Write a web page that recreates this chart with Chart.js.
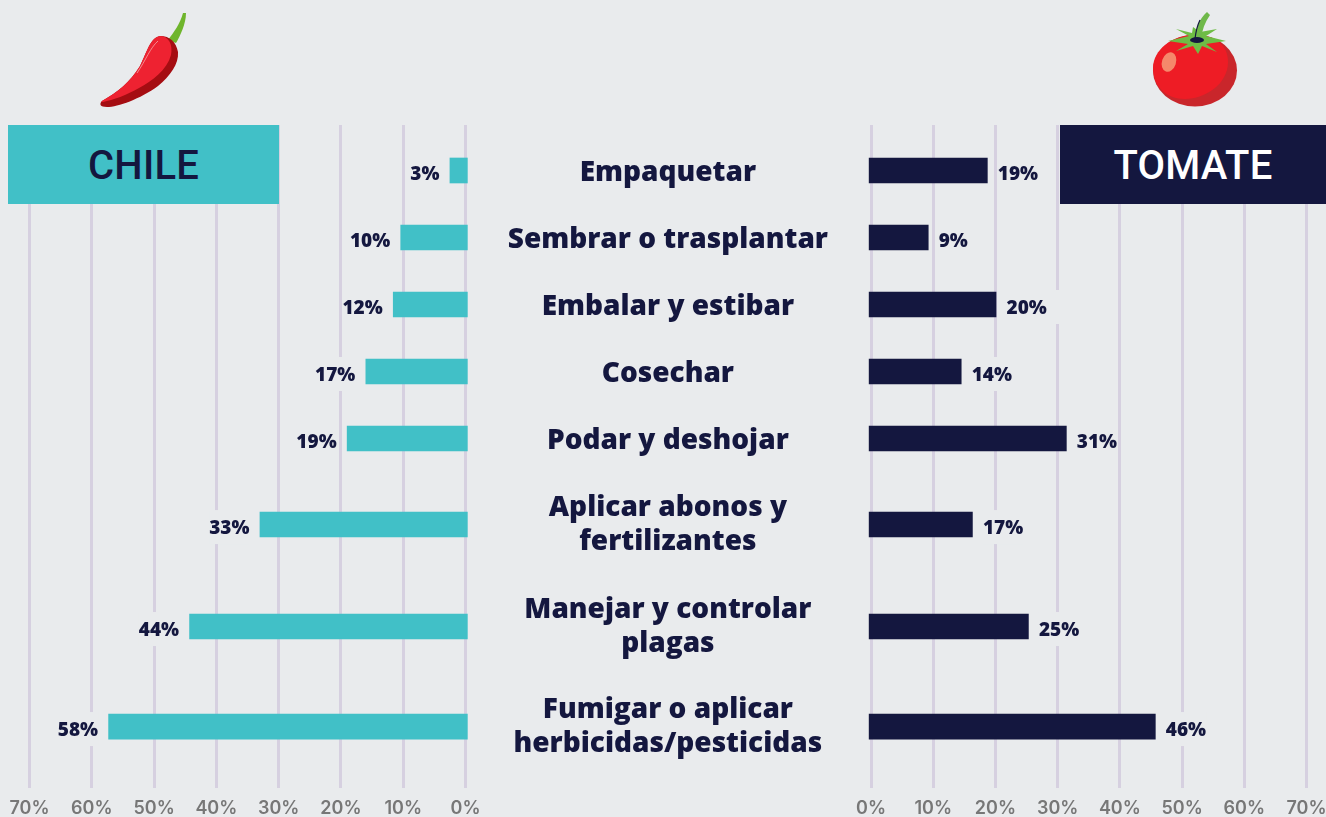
<!DOCTYPE html>
<html lang="es">
<head>
<meta charset="utf-8">
<title>Chile y tomate</title>
<script src="https://cdn.jsdelivr.net/npm/chart.js@4"></script>
<style>
  html, body { margin: 0; padding: 0; background: #e9ebed; overflow: hidden; }
  #page { position: relative; width: 1326px; height: 817px; }
  canvas { position: absolute; top: 0; }
  #chartChile { left: 0; }
  #chartTomate { left: 480px; }
  .head {
    position: absolute; top: 125px; height: 79px; line-height: 82px; text-align: center;
    font-family: Roboto, sans-serif; font-weight: 500; font-size: 40px; letter-spacing: 0.2px;
  }
  #headChile { left: 8px; width: 271px; background: #41c0c7; color: #14173f; }
  #headTomate { left: 1060px; width: 266px; background: #14173f; color: #fff; }
  svg { position: absolute; left: 0; top: 0; }
</style>
</head>
<body>
<div id="page">
  <canvas id="chartChile" width="480" height="817"></canvas>
  <canvas id="chartTomate" width="846" height="817"></canvas>
  <div class="head" id="headChile">CHILE</div>
  <div class="head" id="headTomate">TOMATE</div>
  <!-- iconos -->
  <svg width="1326" height="120" viewBox="0 0 1326 120">
    <path d="M168 40C174 32 180 24 183 13L186 13C186 24 180 36 176 43Z" fill="#6fb52c"/>
    <path d="M160 36C170 36 176 42 178 52C179 64 170 76 158 86C140 99 118 107 107 107C100 107 99 104 102 101C118 92 130 82 140 66C147 52 150 38 160 36Z" fill="#a50d12"/>
    <path d="M160 36C169 36 173 45 171 55C167 70 152 81 139 88C127 95 113 100 103 102C101 102 101 101 102 101C118 92 130 82 140 66C147 52 150 38 160 36Z" fill="#ee2231"/>
    <path d="M158 41C150 48 146 60 137 73" fill="none" stroke="#f58a8e" stroke-width="1"/>
    <ellipse cx="1195" cy="70.5" rx="42" ry="36" fill="#c9262b"/>
    <path d="M1153 68C1153 50 1172 35 1195 35C1215 35 1228 45 1228 62C1228 84 1205 99 1185 99C1166 99 1153 86 1153 68Z" fill="#ee1c25"/>
    <ellipse cx="1169" cy="62" rx="7" ry="10" transform="rotate(18 1169 62)" fill="#f5886b"/>
    <polygon points="1168,41 1189,36 1176,29 1192,33 1193,27 1200,32 1217,29 1206,36 1226,41 1206,44 1217,52 1202,46 1198,54 1193,46 1176,51 1188,44" fill="#6ebd45"/>
    <path d="M1195 39C1196 28 1199 19 1207 12L1210 15C1205 22 1202 30 1201 39Z" fill="#6fb84a"/>
    <path d="M1195 39C1196 30 1198 24 1200 20" fill="none" stroke="#14173f" stroke-width="1.2"/>
    <ellipse cx="1197" cy="40" rx="7" ry="3" fill="#14173f"/>
  </svg>
</div>
<script>
// datos
const categories = [
  'Empaquetar',
  'Sembrar o trasplantar',
  'Embalar y estibar',
  'Cosechar',
  'Podar y deshojar',
  ['Aplicar abonos y', 'fertilizantes'],
  ['Manejar y controlar', 'plagas'],
  ['Fumigar o aplicar', 'herbicidas/pesticidas']
];
// largo de cada barra en %
const chileValues = [2.5, 10.4, 11.6, 16, 19, 33, 44.3, 57.3];
const tomateValues = [18.7, 9.2, 20.1, 14.5, 31.4, 16.3, 25.3, 45.7];
// lo que dice la etiqueta de cada barra
const chileLabels = ['3%', '10%', '12%', '17%', '19%', '33%', '44%', '58%'];
const tomateLabels = ['19%', '9%', '20%', '14%', '31%', '17%', '25%', '46%'];
// filas de distinta altura, las de dos lineas van mas separadas
const rowPositions = [0, 1, 2, 3, 4, 5.284, 6.806, 8.299];

const bgColor = '#e9ebed';
const navy = '#14173f';
const teal = '#41c0c7';
const gridColor = '#d6d0e0';
const labelGap = 10.5;

// etiqueta de valor: primero un parche del color de fondo que corta la grilla, despues el texto
const valueLabels = {
  id: 'valueLabels',
  beforeDatasetsDraw(chart, args, opts) {
    const ctx = chart.ctx;
    ctx.save();
    ctx.font = '800 19px "Open Sans"';
    ctx.fillStyle = bgColor;
    chart.getDatasetMeta(0).data.forEach((bar, i) => {
      const w = ctx.measureText(opts.labels[i]).width;
      const x = opts.side < 0 ? bar.x - labelGap - w : bar.x + labelGap;
      // en el 20% del tomate el parche llega hasta la linea siguiente
      const extra = opts.wideIndex === i ? 15 : 0;
      ctx.fillRect(x, bar.y - 14.5, w + extra, 34);
    });
    ctx.restore();
  },
  afterDatasetsDraw(chart, args, opts) {
    const ctx = chart.ctx;
    ctx.save();
    ctx.font = '800 19px "Open Sans"';
    ctx.fillStyle = navy;
    ctx.textBaseline = 'middle';
    ctx.textAlign = opts.side < 0 ? 'right' : 'left';
    chart.getDatasetMeta(0).data.forEach((bar, i) => {
      ctx.fillText(opts.labels[i], bar.x + opts.side * labelGap, bar.y + 4);
    });
    ctx.restore();
  }
};

function makeChart(id, values, labels, color, side, extra) {
  const x = {
    min: 0,
    max: 70,
    reverse: side < 0,
    border: { display: false },
    grid: { color: gridColor, lineWidth: 3, drawTicks: false },
    ticks: {
      stepSize: 10,
      padding: 10,
      color: '#777777',
      font: { family: 'Inter', size: 18, weight: 600 },
      maxRotation: 0,
      callback: v => v + '%'
    },
    afterFit: s => {
      s.height = 29;
      s.paddingLeft = 0;
      s.paddingRight = 0;
    }
  };
  const y = Object.assign({
    type: 'linear',
    reverse: true,
    offset: false,
    min: -0.679,
    max: 9.216,
    display: false,
    grid: { display: false }
  }, extra.y);
  return new Chart(document.getElementById(id), {
    type: 'bar',
    data: {
      datasets: [{
        data: values.map((v, i) => ({ x: v, y: rowPositions[i] })),
        backgroundColor: color,
        barThickness: 25,
        base: -0.3,
        clip: false
      }]
    },
    options: {
      indexAxis: 'y',
      responsive: false,
      animation: false,
      layout: { padding: extra.padding },
      scales: { x, y },
      plugins: {
        legend: { display: false },
        tooltip: { enabled: false },
        valueLabels: { labels, side, wideIndex: extra.wideIndex }
      }
    },
    plugins: [valueLabels]
  });
}

makeChart('chartChile', chileValues, chileLabels, teal, -1, {
  padding: { left: 29.5, right: 14.5, top: 125, bottom: 0 },
  y: {}
});

makeChart('chartTomate', tomateValues, tomateLabels, navy, 1, {
  padding: { left: 0, right: 19.5, top: 125, bottom: 0 },
  wideIndex: 2,
  // las actividades son las marcas del eje y de este grafico
  y: {
    display: true,
    border: { display: false },
    afterBuildTicks: s => {
      // el texto va un poco mas abajo que el centro de la barra
      s.ticks = rowPositions.map((v, i) => ({ value: v + (Array.isArray(categories[i]) ? 0.005 : 0.037) }));
    },
    afterFit: s => {
      s.width = 391;
      s.paddingTop = 0;
      s.paddingBottom = 0;
    },
    ticks: {
      autoSkip: false,
      crossAlign: 'center',
      padding: 35,
      color: navy,
      font: { family: 'Open Sans', size: 28, weight: 800, lineHeight: 1.2 },
      callback: (v, i) => categories[i]
    }
  }
});
</script>
</body>
</html>
